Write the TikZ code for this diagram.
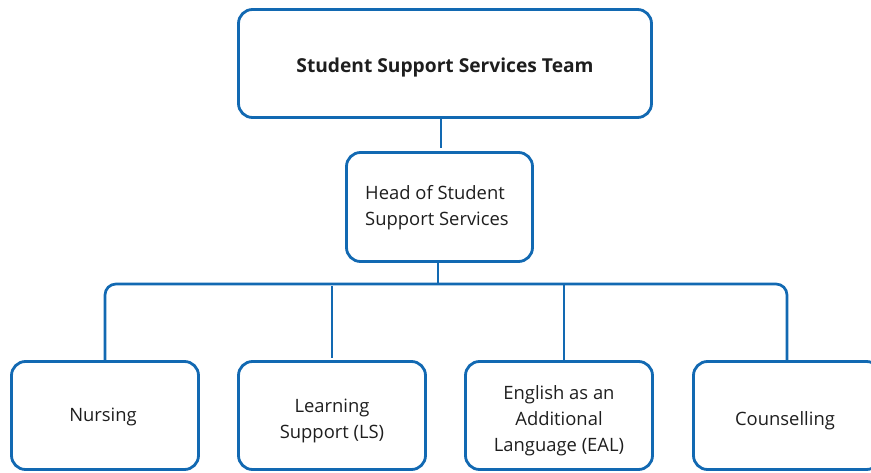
\documentclass[tikz,border=0pt]{standalone}
\usepackage{fontspec}
\setmainfont{Open Sans}
\definecolor{orgblue}{RGB}{18,105,178}
\definecolor{orgtext}{RGB}{30,30,30}
\begin{document}
\begin{tikzpicture}[x=1pt,y=-1pt,
  unit/.style={draw=orgblue, line width=2.8pt, rounded corners=14pt,
    inner sep=0pt},
  caption/.style={inner sep=0pt, align=center, text=orgtext,
    font=\fontsize{18.4}{26}\selectfont},
  wide/.style={unit, minimum width=413pt, minimum height=108pt},
  head/.style={unit, minimum width=186pt, minimum height=109pt},
  leaf/.style={unit, minimum width=187pt, minimum height=108pt},
  link/.style={draw=orgblue, line width=2.7pt}]
\useasboundingbox (0,0) rectangle (871,473);

% boxes
\node[wide] (team) at (445,63.5) {};
\node[head] (hod) at (439.5,207) {};
\node[leaf] (nurse) at (105,415.5) {};
\node[leaf] (ls) at (332,415.5) {};
\node[leaf] (eal) at (559,415.5) {};
\node[leaf] (couns) at (787,415.5) {};

% captions
\node[caption, font=\bfseries\fontsize{19.2}{26}\selectfont] (team-t) at ([yshift=-4pt]team.center) {Student Support Services Team};
\node[caption, align=left] (hod-t) at ([xshift=-2.5pt, yshift=-0.5pt]hod.center) {Head of Student\\Support Services};
\node[caption] (nurse-t) at ([xshift=-2pt, yshift=-1pt]nurse.center) {Nursing};
\node[caption] (ls-t) at ([yshift=-5pt]ls.center) {Learning\\Support (LS)};
\node[caption] (eal-t) at ([yshift=-5pt]eal.center) {English as an\\Additional\\Language (EAL)};
\node[caption] (couns-t) at ([xshift=-2pt, yshift=-5pt]couns.center) {Counselling};

% level of the horizontal bus
\coordinate (bus) at (439.5,284);

% connectors
\draw[link, shorten >=3pt] (team.south -| hod.north) ++(1.5,0) coordinate (t1) -- (t1 |- hod.north);
\draw[link] (hod.south) ++(-1.5,0) coordinate (h1) -- (h1 |- bus);
\draw[link, rounded corners=11pt] (nurse.north) -- (nurse.north |- bus) -- (couns.north |- bus) -- (couns.north);
\draw[link, shorten <=2.5pt] (ls.north) -- ([yshift=-2pt]ls.north |- bus);
\draw[link] ([xshift=5pt]eal.north) coordinate (e1) -- (e1 |- bus);
\end{tikzpicture}
\end{document}
